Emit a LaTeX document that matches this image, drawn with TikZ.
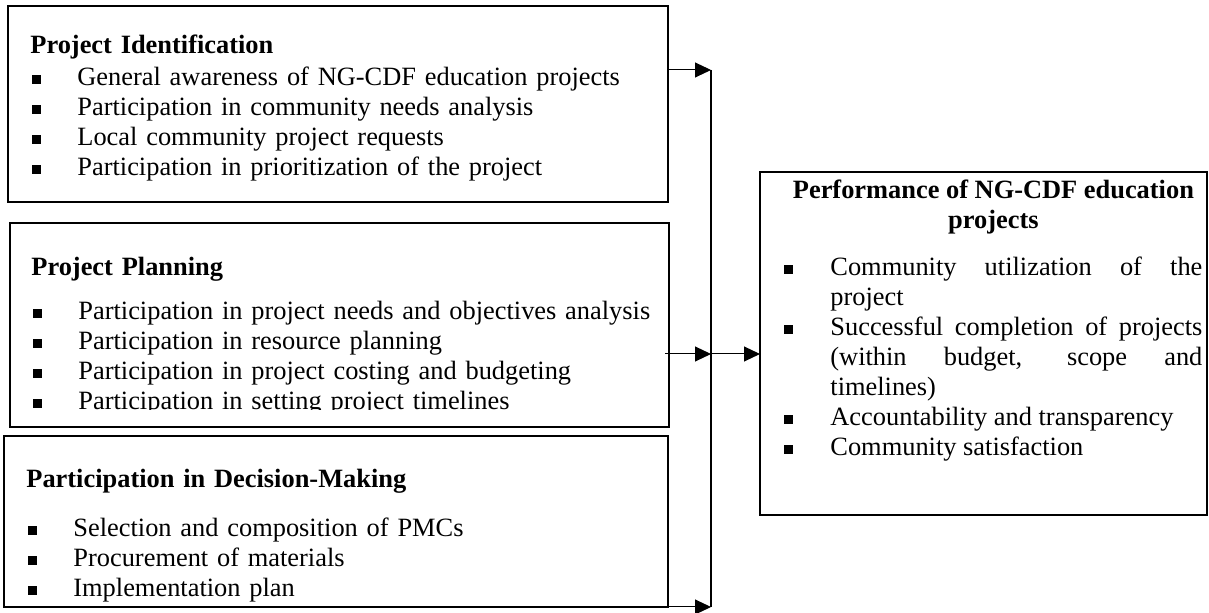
\documentclass[tikz,border=0pt]{standalone}
\usepackage{fontspec}
\setmainfont{Liberation Serif}
\usetikzlibrary{arrows.meta}
\newcommand{\sq}{\rule[1pt]{4.3pt}{4.3pt}}
\newcommand{\blt}{\hspace*{1pt}\makebox[22.5pt][l]{\sq}}
\newcommand{\itm}{\par\noindent\hangindent=23pt\makebox[23pt][l]{\sq}}
\tikzset{
  box/.style={draw, line width=1.1pt, inner sep=0pt, outer sep=0pt, anchor=north west},
  txt/.style={inner sep=0pt, anchor=north west, align=left, text width=310pt,
    font=\fontsize{13.2}{15}\selectfont},
  link/.style={->, line width=0.5pt},
}
\begin{document}
\begin{tikzpicture}[x=0.5pt,y=-0.5pt,>={Triangle[length=8pt,width=7.5pt]}]
\useasboundingbox (0,0) rectangle (1209,613);
% frames
\node[box,minimum width=330pt,minimum height=98pt] (ident) at (8,6) {};
\node[box,minimum width=329.5pt,minimum height=102pt] (plan) at (10,223) {};
\node[box,minimum width=332pt,minimum height=85.5pt] (dec) at (4,436) {};
\node[box,minimum width=223.5pt,minimum height=171.5pt] (perf) at (760,172) {};
% contents
\node[txt] (identtxt) at (30,35) {\textbf{Project Identification}\\[1pt]
\blt General awareness of NG-CDF education projects\\
\blt Participation in community needs analysis\\
\blt Local community project requests\\
\blt Participation in prioritization of the project};
\begin{scope}
\clip (plan.north west) rectangle ([yshift=8.5pt]plan.south east);
\node[txt] (plantxt) at (31,257) {\textbf{Project Planning}\\[7pt]
\blt Participation in project needs and objectives analysis\\
\blt Participation in resource planning\\
\blt Participation in project costing and budgeting\\
\blt Participation in setting project timelines};
\end{scope}
\node[txt] (dectxt) at (26,469) {\textbf{Participation in Decision-Making}\\[9.5pt]
\blt Selection and composition of PMCs\\
\blt Procurement of materials\\
\blt Implementation plan};
\node[txt,text width=209pt,align=justify] (perftxt) at (784,180) {%
{\centering\bfseries Performance of NG-CDF education\par projects\par}\vspace{8.5pt}
\itm Community utilization of the\linebreak project
\itm Successful completion of projects\linebreak (within budget, scope and\linebreak timelines)
\itm Accountability and transparency
\itm Community satisfaction};
% arrows
\coordinate (jtop) at (711,70);
\coordinate (jmid) at (711,354);
\coordinate (jbot) at (711,607);
\draw[link] (ident.east |- jtop) -- (jtop);
\draw[line width=0.8pt] (jtop) -- (jbot);
\draw[link] ([xshift=-2pt]plan.east |- jmid) -- (jmid);
\draw[link] (jmid) -- (perf.west |- jmid);
\draw[link] (dec.south east) -- (jbot);
\end{tikzpicture}
\end{document}
